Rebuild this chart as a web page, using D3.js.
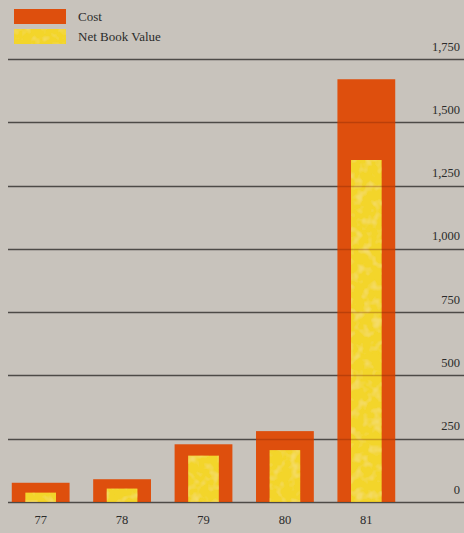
<!DOCTYPE html>
<html>
<head>
<meta charset="utf-8">
<script src="https://cdn.jsdelivr.net/npm/d3@7"></script>
<style>
  html, body { margin: 0; padding: 0; background: #c8c3bc; }
  svg { display: block; }
  text { font-family: "Liberation Serif", "DejaVu Serif", serif; fill: #2b2b2b; }
</style>
</head>
<body>
<svg id="chart" width="464" height="533"></svg>
<script>
// Fixed asset history, in thousands
const years = ["77", "78", "79", "80", "81"];
const cost = [76, 90, 228, 280, 1670];
const netBookValue = [37, 53, 183, 205, 1351];
const tickValues = [0, 250, 500, 750, 1000, 1250, 1500, 1750];
const tickLabels = ["0", "250", "500", "750", "1,000", "1,250", "1,500", "1,750"];
const legendItems = ["Cost", "Net Book Value"];

const W = 464, H = 533;
const svg = d3.select("#chart");

const costColor = "#de4f0d";
const nbvColor = "#f3d52c";
const gridColor = "#4d4a47";

// Mottled fill for the net book value bars: soft ochre veins over yellow
const defs = svg.append("defs");
const mottle = defs.append("filter").attr("id", "mottle")
  .attr("x", 0).attr("y", 0).attr("width", 1).attr("height", 1);
mottle.append("feTurbulence").attr("type", "fractalNoise")
  .attr("baseFrequency", 0.11).attr("numOctaves", 2).attr("seed", 5).attr("result", "noise");
mottle.append("feColorMatrix").attr("in", "noise").attr("type", "matrix")
  .attr("values", "0 0 0 0 0.91  0 0 0 0 0.72  0 0 0 0 0.16  0 0 0 -3 1.55")
  .attr("result", "veins");
mottle.append("feComponentTransfer").attr("in", "veins").attr("result", "soft")
  .append("feFuncA").attr("type", "linear").attr("slope", 0.8);
mottle.append("feComposite").attr("in", "soft").attr("in2", "SourceGraphic")
  .attr("operator", "in").attr("result", "clipped");
const merge = mottle.append("feMerge");
merge.append("feMergeNode").attr("in", "SourceGraphic");
merge.append("feMergeNode").attr("in", "clipped");

const y = d3.scaleLinear().domain([0, 1750]).range([502, 59]);
const x = d3.scaleBand().domain(years).range([2, 405]).paddingInner(0.29).paddingOuter(0.12);
const innerRatio = 0.53;
const innerW = x.bandwidth() * innerRatio;

// Clip region matching the cost bars, so gridlines can show through them faintly
const clip = defs.append("clipPath").attr("id", "barClip");
clip.selectAll("rect").data(years).join("rect")
  .attr("x", d => x(d))
  .attr("width", x.bandwidth())
  .attr("y", (d, i) => y(cost[i]))
  .attr("height", (d, i) => y(0) - y(cost[i]));

// Gridlines underneath the bars
const gridG = svg.append("g");
gridG.selectAll("line").data(tickValues).join("line")
  .attr("x1", 8).attr("x2", W)
  .attr("y1", d => Math.round(y(d)) + 0.5).attr("y2", d => Math.round(y(d)) + 0.5)
  .attr("stroke", gridColor).attr("stroke-width", 1.3);

// Bars: cost as the outer bar, net book value inset
const barsG = svg.append("g");
barsG.selectAll("rect.cost").data(years).join("rect").attr("class", "cost")
  .attr("x", d => x(d))
  .attr("width", x.bandwidth())
  .attr("y", (d, i) => y(cost[i]))
  .attr("height", (d, i) => y(0) - y(cost[i]))
  .attr("fill", costColor);

barsG.selectAll("rect.nbv").data(years).join("rect").attr("class", "nbv")
  .attr("x", d => x(d) + (x.bandwidth() - innerW) / 2)
  .attr("width", innerW)
  .attr("y", (d, i) => y(netBookValue[i]))
  .attr("height", (d, i) => y(0) - y(netBookValue[i]))
  .attr("fill", nbvColor)
  .attr("filter", "url(#mottle)");

// Gridlines showing faintly through the bars
svg.append("g").attr("clip-path", "url(#barClip)")
  .selectAll("line").data(tickValues).join("line")
  .attr("x1", 8).attr("x2", W)
  .attr("y1", d => Math.round(y(d)) + 0.5).attr("y2", d => Math.round(y(d)) + 0.5)
  .attr("stroke", "#6a1c00").attr("stroke-opacity", 0.3).attr("stroke-width", 1.3);

// Value axis labels on the right, above each gridline
const yAxis = d3.axisRight(y).tickValues(tickValues)
  .tickFormat((d, i) => tickLabels[i]).tickSize(0).tickPadding(0);
const yG = svg.append("g").attr("transform", "translate(460,-13)").call(yAxis);
yG.select(".domain").remove();
yG.selectAll("text")
  .attr("text-anchor", "end").attr("x", 0)
  .style("font-family", "\"Liberation Serif\", serif")
  .style("font-size", "12.5px").style("fill", "#2b2b2b");

// Year labels
const xAxis = d3.axisBottom(x).tickSize(0).tickPadding(0);
const xG = svg.append("g").attr("transform", "translate(0,515)").call(xAxis);
xG.select(".domain").remove();
xG.selectAll("text")
  .style("font-family", "\"Liberation Serif\", serif")
  .style("font-size", "12.5px").style("fill", "#2b2b2b");

// Legend
const legend = svg.append("g");
const lg = legend.selectAll("g").data(legendItems).join("g")
  .attr("transform", (d, i) => `translate(14,${9 + i * 20})`);
lg.append("rect").attr("width", 52).attr("height", 15)
  .attr("fill", (d, i) => i === 0 ? costColor : nbvColor)
  .attr("filter", (d, i) => i === 1 ? "url(#mottle)" : null);
lg.append("text").attr("x", 64).attr("y", 12)
  .style("font-size", "13px")
  .text(d => d);
</script>
</body>
</html>
